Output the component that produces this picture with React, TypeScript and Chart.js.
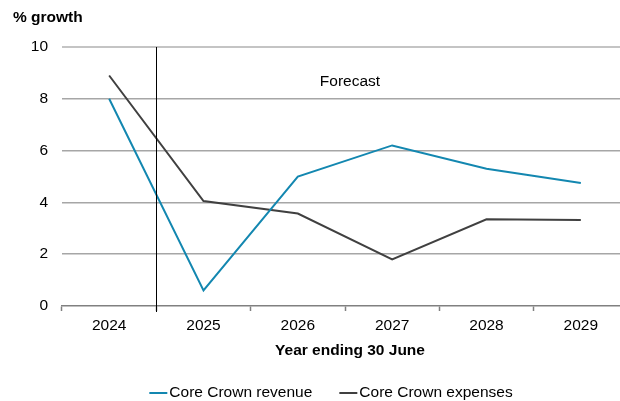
import React, { useEffect, useRef } from "react";
import { Chart, registerables } from "chart.js";
Chart.register(...registerables);

const years = ["2024", "2025", "2026", "2027", "2028", "2029"];
const revenue = [8.0, 0.6, 5.0, 6.2, 5.3, 4.75];
const expenses = [8.9, 4.05, 3.57, 1.8, 3.35, 3.32];
const seriesNames = ["Core Crown revenue", "Core Crown expenses"];
const seriesColors = ["#1387b0", "#404040"];
const yTitle = "% growth";
const xTitle = "Year ending 30 June";
const forecastLabel = "Forecast";

const FONT = "'Liberation Sans', Arial, Helvetica, sans-serif";
const FS = 15.5;

const overlay = {
  id: "overlay",
  afterDraw(chart: any) {
    const { ctx, chartArea, scales } = chart;
    const x = scales.x;
    ctx.save();
    // forecast divider
    const divX = Math.round((x.getPixelForValue(0) + x.getPixelForValue(1)) / 2) + 0.5;
    ctx.strokeStyle = "#000";
    ctx.lineWidth = 1;
    ctx.beginPath();
    ctx.moveTo(divX, chartArea.top);
    ctx.lineTo(divX, chartArea.bottom + 6);
    ctx.stroke();

    ctx.fillStyle = "#000";
    ctx.font = `${FS}px ${FONT}`;
    ctx.textAlign = "center";
    ctx.textBaseline = "middle";
    const fx = (x.getPixelForValue(2) + x.getPixelForValue(3)) / 2 + 5;
    ctx.fillText(forecastLabel, fx, 82);

    // y title
    ctx.font = `bold ${FS}px ${FONT}`;
    ctx.textAlign = "left";
    ctx.fillText(yTitle, 13, 18);

    // x title
    ctx.textAlign = "center";
    ctx.fillText(xTitle, 350, 351);

    // legend
    ctx.font = `${FS}px ${FONT}`;
    const lineLen = 18;
    const gapText = 2;
    const gapItems = 27;
    const widths = seriesNames.map((n) => ctx.measureText(n).width);
    const total = widths.reduce((a, w) => a + lineLen + gapText + w, 0) + gapItems * (seriesNames.length - 1);
    let lx = 331 - total / 2;
    const ly = 393;
    ctx.textAlign = "left";
    seriesNames.forEach((n, i) => {
      ctx.strokeStyle = seriesColors[i];
      ctx.lineWidth = 2;
      ctx.beginPath();
      ctx.moveTo(lx, ly);
      ctx.lineTo(lx + lineLen, ly);
      ctx.stroke();
      ctx.fillStyle = "#000";
      ctx.fillText(n, lx + lineLen + gapText, ly);
      lx += lineLen + gapText + widths[i] + gapItems;
    });
    ctx.restore();
  },
};

export default function App() {
  const ref = useRef<HTMLCanvasElement>(null);
  useEffect(() => {
    if (!ref.current) return;
    const chart = new Chart(ref.current, {
      type: "line",
      data: {
        labels: years,
        datasets: [
          {
            label: seriesNames[0],
            data: revenue,
            borderColor: seriesColors[0],
            backgroundColor: seriesColors[0],
            borderWidth: 2,
            pointRadius: 0,
            tension: 0,
          },
          {
            label: seriesNames[1],
            data: expenses,
            borderColor: seriesColors[1],
            backgroundColor: seriesColors[1],
            borderWidth: 2,
            pointRadius: 0,
            tension: 0,
          },
        ],
      },
      options: {
        animation: false,
        responsive: false,
        maintainAspectRatio: false,
        layout: { padding: { top: 47, left: 0, right: 12, bottom: 0 } },
        plugins: { legend: { display: false }, tooltip: { enabled: false } },
        scales: {
          x: {
            type: "category",
            offset: true,
            afterFit: (s: any) => {
              s.height = 95;
            },
            grid: {
              offset: true,
              drawOnChartArea: false,
              drawTicks: true,
              tickLength: 5,
              tickColor: "#808080",
              tickWidth: 1.5,
            },
            border: { display: true, color: "#808080", width: 1.5 },
            ticks: {
              color: "#000",
              font: { family: FONT, size: FS },
              padding: 5,
              maxRotation: 0,
            },
          },
          y: {
            min: 0,
            max: 10,
            afterFit: (s: any) => {
              s.width = 62;
            },
            ticks: {
              stepSize: 2,
              color: "#000",
              font: { family: FONT, size: FS },
              padding: 14,
            },
            grid: {
              drawTicks: false,
              color: (c: any) => (c.tick && c.tick.value === 10 ? "#c4c4c4" : c.tick && c.tick.value === 0 ? "rgba(0,0,0,0)" : "#a6a6a6"),
              lineWidth: (c: any) => (c.tick && c.tick.value === 10 ? 2 : 1.5),
            },
            border: { display: false },
          },
        },
      },
      plugins: [overlay],
    });
    return () => chart.destroy();
  }, []);
  return (
    <div style={{ position: "fixed", left: 0, top: 0, width: 620, height: 401, overflow: "hidden", background: "#fff" }}>
      <canvas ref={ref} width={640} height={401} style={{ display: "block", width: 640, height: 401 }} />
    </div>
  );
}
